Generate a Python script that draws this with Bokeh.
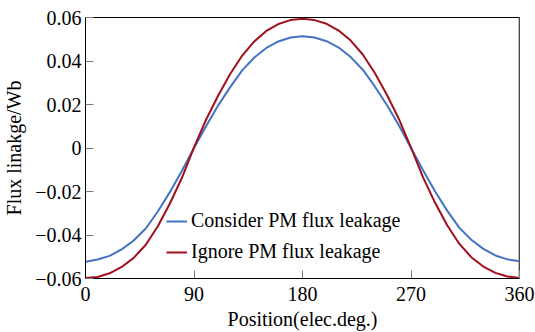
from bokeh.plotting import figure
from bokeh.models import FixedTicker, CustomJSTickFormatter, Span, Legend, LegendItem, ColumnDataSource
from bokeh.embed import file_html
from bokeh.resources import INLINE

# Rotor position (electrical degrees)
position = [0, 10, 20, 30, 40, 50, 60, 70, 80, 90,
            100, 110, 120, 130, 140, 150, 160, 170, 180,
            190, 200, 210, 220, 230, 240, 250, 260, 270,
            280, 290, 300, 310, 320, 330, 340, 350, 360]

# Flux linkage with PM leakage taken into account (Wb)
flux_consider = [-0.0523, -0.0513, -0.0496, -0.0466, -0.0425, -0.0370, -0.0292, -0.0203, -0.0105, 0.0000,
                 0.0100, 0.0195, 0.0280, 0.0357, 0.0416, 0.0460, 0.0490, 0.0508, 0.0514,
                 0.0508, 0.0491, 0.0462, 0.0418, 0.0360, 0.0283, 0.0198, 0.0103, 0.0000,
                 -0.0102, -0.0200, -0.0288, -0.0366, -0.0422, -0.0464, -0.0494, -0.0512, -0.0521]

# Flux linkage ignoring PM leakage (Wb)
flux_ignore = [-0.0598, -0.0593, -0.0576, -0.0547, -0.0505, -0.0445, -0.0360, -0.0255, -0.0137, 0.0003,
               0.0130, 0.0240, 0.0340, 0.0425, 0.0490, 0.0538, 0.0570, 0.0588, 0.0594,
               0.0588, 0.0571, 0.0540, 0.0494, 0.0430, 0.0345, 0.0245, 0.0133, 0.0002,
               -0.0135, -0.0252, -0.0355, -0.0440, -0.0502, -0.0545, -0.0574, -0.0591, -0.0598]

x_ticks = [0, 90, 180, 270, 360]
y_ticks = [-0.06, -0.04, -0.02, 0, 0.02, 0.04, 0.06]

labels = ["Consider PM flux leakage", "Ignore PM flux leakage"]
colors = ["#4472C4", "#A00F1A"]

FONT = "Liberation Serif"
SIZE = "20px"

p = figure(width=535, height=332, output_backend="svg", toolbar_location=None,
           x_range=(0, 360), y_range=(-0.06, 0.06),
           min_border_left=84, min_border_right=16,
           min_border_top=17, min_border_bottom=54)

p.grid.visible = False
p.background_fill_color = "white"
p.border_fill_color = "white"
p.outline_line_color = "black"
p.outline_line_width = 1

src = ColumnDataSource(dict(x=position, a=flux_consider, b=flux_ignore))
r1 = p.line("x", "a", source=src, line_color=colors[0], line_width=2, line_join="round")
r2 = p.line("x", "b", source=src, line_color=colors[1], line_width=2, line_join="round")

# gray right-hand border
p.add_layout(Span(location=360, dimension="height", line_color="#8a8a8a", line_width=2))

for ax in (p.xaxis[0], p.yaxis[0]):
    ax.major_tick_in = 8
    ax.major_tick_out = 0
    ax.minor_tick_line_color = None
    ax.major_tick_line_color = "#7a7a7a"
    ax.axis_line_color = "black"
    ax.major_label_text_font = FONT
    ax.major_label_text_font_size = SIZE
    ax.major_label_text_color = "black"
    ax.axis_label_text_font = FONT
    ax.axis_label_text_font_size = SIZE
    ax.axis_label_text_font_style = "normal"
    ax.axis_label_text_color = "black"

p.xaxis.ticker = FixedTicker(ticks=x_ticks)
p.yaxis.ticker = FixedTicker(ticks=y_ticks)
p.yaxis.formatter = CustomJSTickFormatter(code="""
    if (Math.abs(tick) < 1e-9) return '0';
    return (tick < 0 ? '\\u2212' : '') + Math.abs(tick).toFixed(2);
""")
p.xaxis.major_label_standoff = 8
p.yaxis.major_label_standoff = 4
p.xaxis.axis_label = "Position(elec.deg.)"
p.yaxis.axis_label = "Flux linakge/Wb"
p.xaxis.axis_label_standoff = 4
p.yaxis.axis_label_standoff = 7

legend = Legend(items=[LegendItem(label=labels[0], renderers=[r1]),
                       LegendItem(label=labels[1], renderers=[r2])],
                location=(81, 15))
legend.border_line_color = None
legend.background_fill_alpha = 0
legend.padding = 0
legend.margin = 0
legend.spacing = 8
legend.glyph_width = 21
legend.glyph_height = 20
legend.label_height = 20
legend.label_standoff = 4
legend.label_text_font = FONT
legend.label_text_font_size = SIZE
legend.label_text_color = "black"
p.add_layout(legend)

open("out.html", "w").write(file_html(p, INLINE))
